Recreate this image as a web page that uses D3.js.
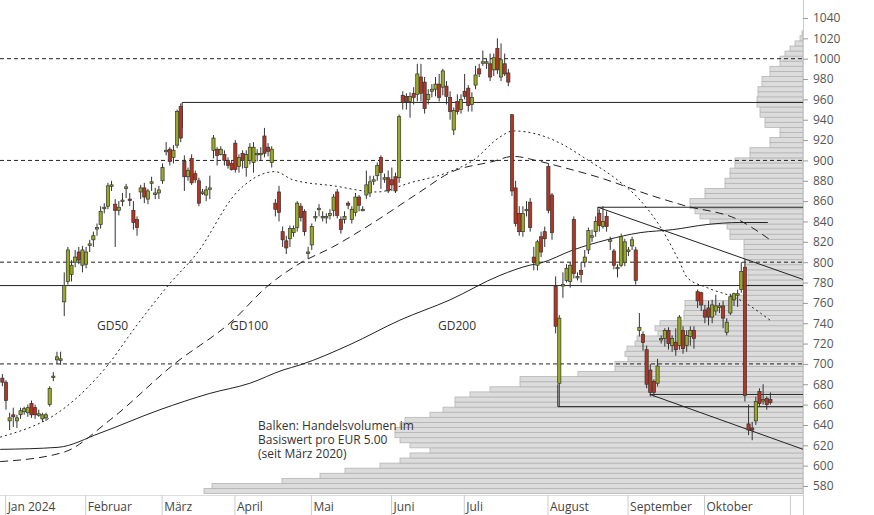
<!DOCTYPE html>
<html><head><meta charset="utf-8">
<script src="https://cdn.jsdelivr.net/npm/d3@7"></script>
<style>body{margin:0;background:#fff}svg{font-family:"Open Sans",sans-serif}</style>
</head><body><svg id="c" width="874" height="515"></svg>
<script>
// candles: open close high low, one per trading day starting 29 Dec 2023
const candles = [
"686 682 690 678","682 664 684 655","644 647 652 635","650 648 657 638","644 647 650 637","650 654 657 646",
"653 656 658 650","652 657 660 648","661 650 664 647","657 650 660 646","650 651 655 648","646 650 652 643",
"647 650 652 644","660 676 678 658","688 688 692 683","704 707 712 700","705 705 712 699","761 777 790 747",
"781 812 815 778","788 797 802 781","800 805 812 795","810 802 815 798","797 812 816 790","798 810 815 794",
"818 818 822 810","822 826 830 815","834 834 838 826","837 850 855 833","854 854 858 848","855 875 878 852",
"876 876 880 870","857 851 862 815","851 854 860 846","861 861 868 855","874 874 877 863","862 861 868 855",
"851 839 860 832","842 834 845 826","869 873 876 862","873 864 878 858","862 870 872 857","879 879 884 870",
"868 868 873 862","868 871 875 862","880 893 897 877","910 910 918 905","911 899 913 895","903 910 915 897",
"915 948 950 912","953 922 956 918","899 884 905 870","884 890 893 880","902 878 906 876","887 881 890 878",
"880 858 883 855","869 869 872 866","866 871 875 860","873 873 885 862","910 922 925 902","911 905 913 895",
"906 911 914 905","906 900 910 895","900 895 903 892","897 891 900 890","917 891 920 888","894 903 906 888",
"907 900 910 892","893 906 910 884","900 913 917 896","898 913 918 888","907 907 911 899","906 907 913 900",
"924 907 932 903","913 909 917 904","898 911 914 893","858 852 862 845","869 849 875 840","830 822 835 815",
"821 814 826 808","823 833 836 815","829 833 836 825","834 858 860 830","855 844 858 840","850 830 852 826",
"810 810 815 803","817 835 838 812","845 845 850 840","853 853 857 845","845 845 850 840","845 845 848 838",
"846 848 852 842","851 864 867 845","869 846 872 843","842 832 845 828","842 845 850 838","858 856 860 852","842 852 855 838",
"849 864 868 845","864 856 866 850","852 852 855 850","866 876 890 862","868 879 885 864","881 881 885 876",
"885 895 898 880","903 888 905 872","883 883 887 878","883 870 890 868","881 876 893 870","884 870 888 868",
"883 943 945 878","964 957 968 950","963 958 966 950","958 963 967 942","966 962 972 955","965 985 995 958",
"982 966 995 958","977 951 982 946","960 965 970 955","968 970 975 962","970 975 982 963","975 962 985 958","972 988 990 964",
"973 963 978 955","962 948 968 940","930 949 952 925","958 948 965 945","950 960 965 946","968 963 985 960",
"971 954 974 948","955 962 967 948","974 984 993 970","990 985 995 982","997 997 1008 993","997 997 1000 990",
"995 982 1005 978","989 1001 1005 983","1010 989 1020 985","982 999 1015 978","995 985 1005 983","986 977 990 973",
"945 870 945 865","873 838 880 835","848 830 855 826","830 848 855 825","852 852 860 845","859 834 863 830",
"805 800 815 792","797 820 822 792","825 810 830 805","830 823 835 815","894 851 897 848","866 829 868 822",
"776 737 786 730","681 745 748 658","778 778 790 765","782 794 798 780","781 797 800 775","842 789 845 784",
"786 786 790 782","792 788 800 780","800 805 812 795","812 831 834 808","826 826 832 820","830 840 845 825",
"848 836 852 830","835 840 855 833","845 835 850 830","822 822 825 812","811 797 813 793","795 795 798 785",
"797 825 828 795","800 820 823 796","812 812 815 806","816 822 825 812","812 782 815 778","733 736 750 727",
"729 721 732 713","714 680 718 676","694 672 700 668","683 672 685 668","681 698 705 678","725 725 728 720",
"725 733 735 717","733 720 736 714","718 725 728 712","721 714 735 708","718 746 748 714","733 715 737 710",
"718 728 733 712","727 733 737 718","733 725 737 715","771 762 773 755","770 758 771 752","753 746 758 740",
"755 746 762 738","746 758 763 740","752 757 768 748","757 757 760 750","757 745 762 735","731 741 745 728",
"750 766 769 748","763 769 770 757","769 769 773 756","773 791 800 770","795 669 803 663","641 635 660 630",
"637 635 643 625","644 663 668 640","673 661 676 658","665 665 680 660","666 660 668 655","665 662 672 660"
];
const holidays = ["2024-01-01","2024-03-29","2024-04-01","2024-05-01"];
const monthNames = ["Jan 2024","Februar","März","April","Mai","Juni","Juli","August","September","Oktober"];
// moving averages: [trading day index from 2 Jan, value]
const gd50 = [[-1.6,628],[16.2,657],[28,699],[34.9,733],[45,779],[52.5,809],[63.5,869],[73.9,889],[78.8,881],[90,875],[101.9,869],[111,878],[121.2,888],[128.3,900],[135.7,923],[139.3,929],[146.7,925],[152.2,917],[160,900],[167.9,881],[174.2,861],[179.7,835],[185.2,799],[187.1,785],[192.6,775],[201.6,763],[209.9,743]];
const gd100 = [[-1.6,604],[15.7,613],[28.6,645],[45.9,699],[62.4,743],[71.7,776],[80.8,799],[89.8,815],[99.2,835],[113.7,869],[122,888],[133.8,899],[139.3,904],[146.7,899],[152.2,894],[163.2,883],[176.9,866],[186,856],[201.6,841],[209.9,822]];
const gd200 = [[-1.6,616],[14.3,618],[25.8,632],[42.3,655],[56,671],[67,681],[76.1,694],[80.8,699],[94.5,719],[108.2,743],[122,763],[135.7,787],[143.9,797],[146.7,799],[155.8,812],[165.1,822],[174.2,829],[183.2,832],[192.6,837],[201.6,839],[209.3,839]];
// volume profile, price level -> volume (arbitrary units)
const volPrice = [575,580,585,590,595,600,605,610,615,620,625,630,635,640,645,650,655,660,665,670,675,680,685,690,695,700,705,710,715,720,725,730,735,740,745,750,755,760,765,770,775,780,785,790,795,800,805,810,815,820,825,830,835,840,845,850,855,860,865,870,875,880,885,890,895,900,905,910,915,920,925,930,935,940,945,950,955,960,965,970,975,980,985,990,995,1000,1005,1010,1015,1020,1025];
const volume = [599,591,521,483,458,423,403,393,373,393,403,408,408,403,398,373,360,348,348,333,313,283,283,225,188,188,175,178,176,168,166,145,148,143,119,119,118,118,73,58,55,55,55,55,58,58,59,59,59,59,73,73,76,93,103,108,113,113,98,98,78,78,73,73,68,68,53,53,33,33,23,23,38,38,43,43,46,46,45,45,41,41,33,33,23,23,18,13,8,3,1];
const hLevels = [700,800,900,1000];

const svg = d3.select("#c");
const W = 803, H = 495;
const x = d3.scaleLinear().domain([0, 1]).range([6, 9.64]);
const y = d3.scaleLinear().domain([580, 1040]).range([486, 18]);
const xv = d3.scaleLinear().domain([0, 100]).range([0, 100]);

// trading dates
const dates = [];
for (let d = new Date(2023, 11, 29); dates.length < candles.length; d.setDate(d.getDate() + 1)) {
  const day = d.getDay();
  const iso = d3.timeFormat("%Y-%m-%d")(d);
  if (day === 0 || day === 6 || holidays.includes(iso)) continue;
  dates.push(new Date(d));
}
const data = candles.map((s, i) => {
  const [o, c, h, l] = s.split(" ").map(Number);
  return {i: i - 1, date: dates[i], o, c, h, l};
});

svg.append("defs").append("clipPath").attr("id", "clip")
  .append("rect").attr("width", W).attr("height", H);
const g = svg.append("g").attr("clip-path", "url(#clip)");

// volume profile
g.selectAll("rect.vol").data(volPrice).join("rect")
  .attr("x", (p, k) => W - xv(volume[k]))
  .attr("y", p => y(p + 2.5))
  .attr("width", (p, k) => xv(volume[k]))
  .attr("height", p => y(p - 2.5) - y(p + 2.5))
  .attr("fill", "#dcdcdc").attr("stroke", "#b4b4b4").attr("stroke-width", 0.8);

// dashed levels
hLevels.forEach(v => g.append("line").attr("x1", 0).attr("x2", W).attr("y1", y(v)).attr("y2", y(v))
  .attr("stroke", "#222").attr("stroke-dasharray", "4,3"));

// support/resistance lines [i1,v1,i2,v2]
const segs = [[-2, 777, 219, 777], [48.4, 957, 219, 957], [162.6, 854, 219, 854], [162.6, 854, 219, 783],
  [151.6, 658, 219, 658], [176.9, 670, 219, 670], [176.9, 670, 219, 616], [48.4, 957, 48.4, 932], [151.6, 658, 151.6, 680], [162.6, 854, 162.6, 840]];
segs.forEach(s => g.append("line").attr("x1", x(s[0])).attr("y1", y(s[1])).attr("x2", x(s[2])).attr("y2", y(s[3]))
  .attr("stroke", "#222").attr("stroke-width", 1));

// moving averages
const line = d3.line().x(d => x(d[0])).y(d => y(d[1])).curve(d3.curveMonotoneX);
g.append("path").attr("d", line(gd50)).attr("fill", "none").attr("stroke", "#222").attr("stroke-dasharray", "2,3");
g.append("path").attr("d", line(gd100)).attr("fill", "none").attr("stroke", "#222").attr("stroke-dasharray", "8,5");
g.append("path").attr("d", line(gd200)).attr("fill", "none").attr("stroke", "#222");

// candles
const cg = g.selectAll("g.cd").data(data).join("g");
cg.append("line").attr("x1", d => x(d.i)).attr("x2", d => x(d.i))
  .attr("y1", d => y(d.h)).attr("y2", d => y(d.l)).attr("stroke", "#333");
cg.append("rect").attr("x", d => x(d.i) - 1.6).attr("width", 3.2)
  .attr("y", d => y(Math.max(d.o, d.c)))
  .attr("height", d => Math.max(1.5, Math.abs(y(d.o) - y(d.c))))
  .attr("fill", d => d.c >= d.o ? "#9aa925" : "#b43522").attr("stroke", "#333").attr("stroke-width", 0.7);

// right axis
svg.append("line").attr("x1", W + 0.5).attr("x2", W + 0.5).attr("y1", 0).attr("y2", 515).attr("stroke", "#ccc");
const yAxis = svg.append("g").attr("transform", `translate(${W},0)`)
  .call(d3.axisRight(y).tickValues(d3.range(580, 1041, 20)).tickFormat(d3.format("d")).tickSize(5).tickPadding(5));
yAxis.select(".domain").remove();
yAxis.selectAll("line").attr("stroke", "#999");
yAxis.selectAll("text").attr("fill", "#555").attr("font-size", 12).attr("font-family", "Open Sans");

// bottom month axis
svg.append("line").attr("x1", 0).attr("x2", W).attr("y1", H + 0.5).attr("y2", H + 0.5).attr("stroke", "#ddd");
const firsts = data.filter((d, k) => k > 0 && d.date.getMonth() !== data[k - 1].date.getMonth());
firsts.forEach((d, k) => {
  const px = x(d.i - 0.1);
  svg.append("line").attr("x1", px).attr("x2", px).attr("y1", H).attr("y2", 515).attr("stroke", "#ccc");
  svg.append("text").attr("x", px + 2).attr("y", 511).attr("font-size", 12).attr("fill", "#444").text(monthNames[k]);
});
svg.append("line").attr("x1", x(215.5)).attr("x2", x(215.5)).attr("y1", H).attr("y2", 515).attr("stroke", "#ccc");

// labels
[["GD50", 97], ["GD100", 230], ["GD200", 438]].forEach(t =>
  svg.append("text").attr("x", t[1]).attr("y", 330).attr("font-size", 12).attr("fill", "#333").text(t[0]));
["Balken: Handelsvolumen im", "Basiswert pro EUR 5.00", "(seit März 2020)"].forEach((t, k) =>
  svg.append("text").attr("x", 258).attr("y", 430 + k * 14).attr("font-size", 12).attr("fill", "#333").text(t));
</script></body></html>
